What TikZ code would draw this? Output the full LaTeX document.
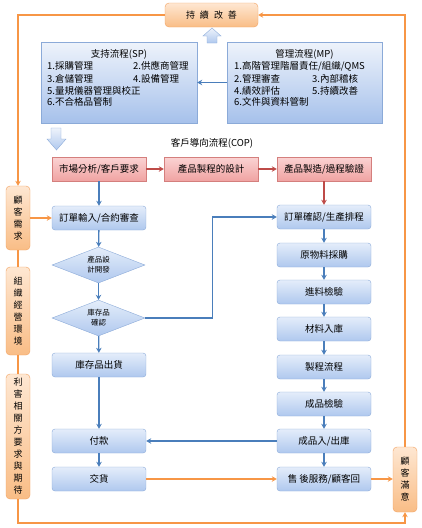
\documentclass[tikz,border=0pt]{standalone}
\usepackage{fontspec}
\setmainfont{Noto Sans CJK TC}
\usetikzlibrary{shapes.geometric,arrows.meta}

\definecolor{blueline}{HTML}{4A7EBB}
\definecolor{redline}{HTML}{BE4B48}
\definecolor{orangeline}{HTML}{F79646}
\definecolor{bluetop}{HTML}{E4EDFA}
\definecolor{bluebot}{HTML}{AFC8EE}
\definecolor{blueedge}{HTML}{8BAAD8}
\definecolor{redtop}{HTML}{FAD3D3}
\definecolor{redbot}{HTML}{F0A3A2}
\definecolor{rededge}{HTML}{D47F7D}
\definecolor{orangetop}{HTML}{FEE7D2}
\definecolor{orangebot}{HTML}{F9BD86}
\definecolor{orangeedge}{HTML}{F2A15F}
\definecolor{sptop}{HTML}{EEF3FB}
\definecolor{spbot}{HTML}{A6C1EB}

\begin{document}
\begin{tikzpicture}[x=1pt,y=-1pt,
    font=\fontsize{9.5}{12}\selectfont,
    >={Stealth[length=5pt,width=5.5pt]},
    bluebox/.style={draw=blueedge,rounded corners=3pt,top color=bluetop,bottom color=bluebot,
      minimum width=94pt,minimum height=24pt,inner sep=0pt},
    redbox/.style={draw=rededge,top color=redtop,bottom color=redbot,
      minimum width=94pt,minimum height=24pt,inner sep=0pt},
    orangebox/.style={draw=orangeedge,rounded corners=4pt,top color=orangetop,bottom color=orangebot,
      minimum width=24pt,inner sep=0pt,align=center,font=\fontsize{9}{12}\selectfont},
    bigbox/.style={draw=blueedge,top color=sptop,bottom color=spbot,minimum height=81pt,inner sep=0pt},
    choice/.style={diamond,aspect=2.5,draw=blueedge,top color=bluetop,bottom color=bluebot,
      minimum width=93pt,minimum height=36pt,inner sep=0pt,align=center,font=\fontsize{7.5}{10}\selectfont},
    listtext/.style={anchor=west,inner sep=0pt},
    bluearrow/.style={draw=blueline,line width=1.3pt,->},
    redarrow/.style={draw=redline,line width=1.3pt,->},
    orangearrow/.style={draw=orangeline,line width=1.3pt}]
        \useasboundingbox (0,0) rectangle (421,528) ;

        % top box and the two process groups
        \node[orangebox,minimum width=93pt,minimum height=24pt] (improve) at (211.5,15)
        {持\hspace{5pt}續\hspace{5pt}改\hspace{5pt}善} ;
        \node[bigbox,minimum width=156pt] (sp) at (119,82.5) {} ;
        \node[bigbox,minimum width=155pt] (mp) at (304.5,82.5) {} ;

        \node (sptitle) at (119,54) {支持流程(SP)} ;
        \node[listtext] (sp1) at (47,66) {1.採購管理} ;
        \node[listtext] (sp2) at (133,66) {2.供應商管理} ;
        \node[listtext] (sp3) at (47,78.5) {3.倉儲管理} ;
        \node[listtext] (sp4) at (133,78.5) {4.設備管理} ;
        \node[listtext] (sp5) at (47,90.5) {5.量規儀器管理與校正} ;
        \node[listtext] (sp6) at (47,102) {6.不合格品管制} ;

        \node (mptitle) at (304.5,54) {管理流程(MP)} ;
        \node[listtext] (mp1) at (234,66) {1.高階管理階層責任/組織/QMS} ;
        \node[listtext] (mp2) at (234,78.5) {2.管理審查} ;
        \node[listtext] (mp3) at (312,78.5) {3.內部稽核} ;
        \node[listtext] (mp4) at (234,90.5) {4.績效評估} ;
        \node[listtext] (mp5) at (312,90.5) {5.持續改善} ;
        \node[listtext] (mp6) at (234,102) {6.文件與資料管制} ;

        \draw[bluearrow] (mp.west) -- (sp.east) ;

        % block arrows
        \draw[draw=blueedge,top color=sptop,bottom color=bluebot]
        (212,28)--(221,36)--(217,36)--(217,43)--(207,43)--(207,36)--(203,36)--cycle ;
        \draw[draw=blueedge,top color=sptop,bottom color=bluebot]
        (51,128)--(61,128)--(61,139)--(66,139)--(56.5,150)--(47,139)--(51,139)--cycle ;

        \node (cop) at (212,143) {客戶導向流程(COP)} ;

        % red row
        \node[redbox] (market) at (99,169) {市場分析/客戶要求} ;
        \node[redbox] (design) at (211,169) {產品製程的設計} ;
        \node[redbox] (make) at (324,169) {產品製造/過程驗證} ;

        % left column
        \node[bluebox] (order) at (99,218) {訂單輸入/合約審查} ;
        \node[choice] (dev) at (98.5,265) {產品設\\計開發} ;
        \node[choice] (stock) at (98.5,318) {庫存品\\確認} ;
        \node[bluebox] (ship) at (99,365) {庫存品出貨} ;
        \node[bluebox] (pay) at (99,441) {付款} ;
        \node[bluebox] (deliver) at (99,479) {交貨} ;

        % right column
        \node[bluebox] (confirm) at (324,217) {訂單確認/生產排程} ;
        \node[bluebox] (buy) at (324,255) {原物料採購} ;
        \node[bluebox] (inspect) at (324,292) {進料檢驗} ;
        \node[bluebox] (store) at (324,329) {材料入庫} ;
        \node[bluebox] (process) at (324,367) {製程流程} ;
        \node[bluebox] (final) at (324,404) {成品檢驗} ;
        \node[bluebox] (inout) at (324,441) {成品入/出庫} ;
        \node[bluebox] (service) at (324,479) {售 後服務/顧客回} ;

        % side boxes
        \node[orangebox,minimum height=64pt] (need) at (18,218) {顧\\客\\需\\求} ;
        \node[orangebox,minimum height=88pt] (env) at (18,311) {組\\織\\經\\營\\環\\境} ;
        \node[orangebox,minimum height=125pt] (stake) at (18,436.5) {利\\害\\相\\關\\方\\要\\求\\與\\期\\待} ;
        \node[orangebox,minimum height=65pt] (satisfy) at (405,479.5) {顧\\客\\滿\\意} ;

        % red connectors
        \draw[redarrow] (market) -- (design) ;
        \draw[redarrow] (design) -- (make) ;
        \draw[redarrow] (make) -- (confirm) ;

        % blue connectors
        \draw[bluearrow] (market) -- (order) ;
        \draw[bluearrow] (order) -- (dev) ;
        \draw[bluearrow] (dev) -- (stock) ;
        \draw[bluearrow] (stock) -- (ship) ;
        \draw[bluearrow] (ship) -- (pay) ;
        \draw[bluearrow] (pay) -- (deliver) ;
        \draw[bluearrow] (stock.east) -- ++(67,0) |- (confirm.west) ;
        \draw[bluearrow] (confirm) -- (buy) ;
        \draw[bluearrow] (buy) -- (inspect) ;
        \draw[bluearrow] (inspect) -- (store) ;
        \draw[bluearrow] (store) -- (process) ;
        \draw[bluearrow] (process) -- (final) ;
        \draw[bluearrow] (final) -- (inout) ;
        \draw[bluearrow] (inout) -- (service) ;
        \draw[bluearrow] (inout) -- (pay) ;

        % orange loop
        \coordinate (loop) at (18,523) ;
        \draw[orangearrow,->] (improve.west) -| (need.north) ;
        \draw[orangearrow] (need) -- (env) ;
        \draw[orangearrow] (env) -- (stake) ;
        \draw[orangearrow,->] (stake.south) -- (loop) -| (satisfy.south) ;
        \draw[orangearrow,->] (satisfy.north) |- (improve.east) ;
        \draw[orangearrow,->] (need) -- (order) ;
        \draw[orangearrow,->] (deliver) -- (service) ;
        \draw[orangearrow,->] (service.east) -- (service.east -| satisfy.west) ;
      \end{tikzpicture}
\end{document}
